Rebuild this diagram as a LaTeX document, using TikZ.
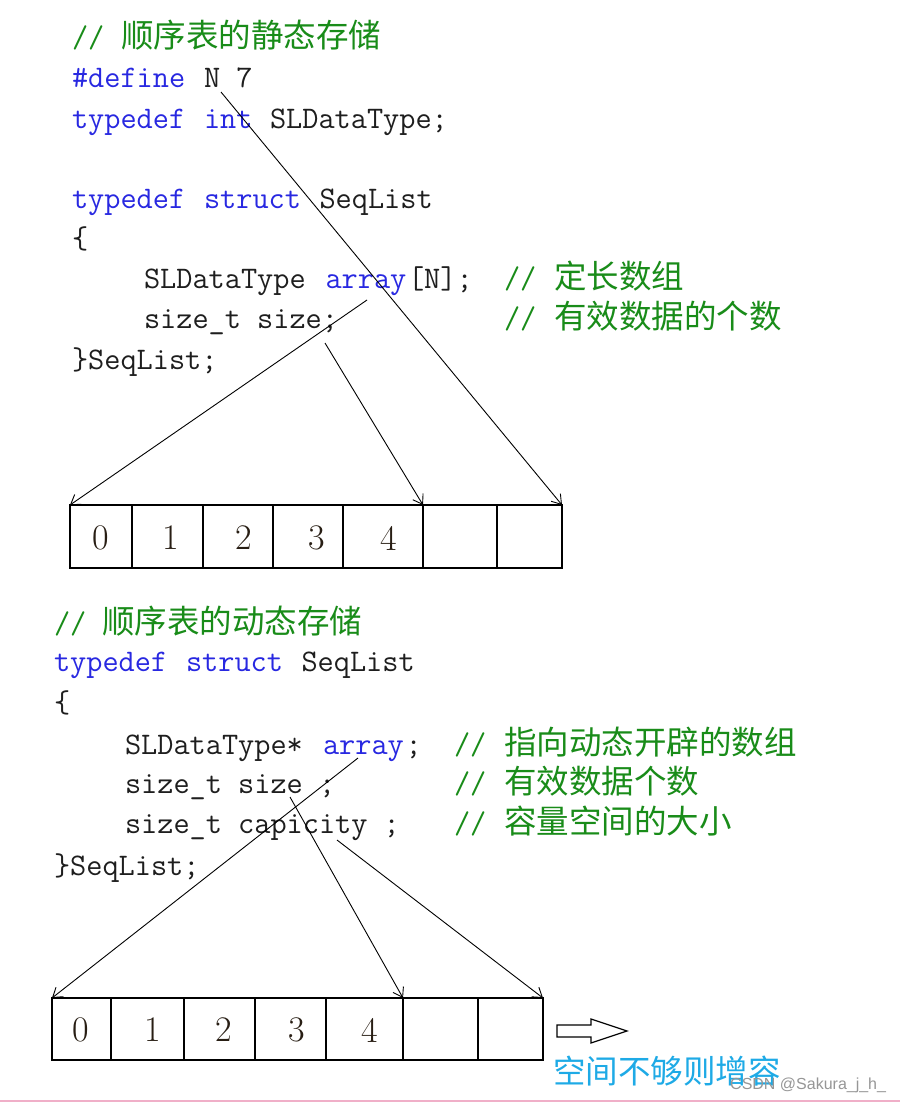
\documentclass[tikz,border=0pt]{standalone}
\usepackage{fontspec}
\newfontfamily\cjk{Noto Sans CJK SC}
\newfontfamily\wmfont{Liberation Sans}
\usetikzlibrary{arrows.meta}
\definecolor{kw}{RGB}{40,40,225}
\definecolor{cm}{RGB}{25,140,25}
\definecolor{tx}{RGB}{30,30,30}
\definecolor{dg}{RGB}{40,30,20}
\definecolor{cy}{RGB}{30,170,230}
\definecolor{pk}{RGB}{240,175,200}
\definecolor{wm}{RGB}{150,150,150}
\tikzset{
  code/.style={anchor=base west, inner sep=0pt, outer sep=0pt,
    font=\ttfamily\fontsize{31.4}{32}\selectfont, text=tx},
  kwd/.style={code, text=kw},
  cmt/.style={code, text=cm},
  zh/.style={anchor=base west, inner sep=0pt, outer sep=0pt,
    font=\cjk\fontsize{32.5}{33}\selectfont, text=cm},
  cellbox/.style={draw=black, line width=1.3pt, anchor=north west,
    inner sep=0pt, outer sep=0pt},
  digit/.style={inner sep=0pt, font=\fontsize{36}{36}\selectfont, text=dg},
  ptr/.style={draw=black, line width=0.9pt, -{Straight Barb[length=9pt,width=12pt]}},
}
\begin{document}
\begin{tikzpicture}[x=1pt,y=-1pt]
\fill[white] (0,0) rectangle (900,1103);
\useasboundingbox (0,0) rectangle (900,1103);

% ---------- static storage code ----------
\node[cmt] (c1a) at (72,47) {//};
\node[zh]  (c1b) at (121,47) {顺序表的静态存储};
\node[kwd] (c2a) at (72,87) {\#define};
\node[code] (c2b) at (204,87) {N 7};
\node[kwd] (c3a) at (72,128) {typedef};
\node[kwd] (c3b) at (204,128) {int};
\node[code] (c3c) at (270,128) {SLDataType;};
\node[kwd] (c5a) at (72,208) {typedef};
\node[kwd] (c5b) at (204,208) {struct};
\node[code] (c5c) at (319.5,208) {SeqList};
\node[code] (c6) at (72,248) {\{};
\node[code] (c7a) at (144,288) {SLDataType};
\node[kwd] (c7b) at (325.5,288) {array};
\node[code] (c7c) at (408,288) {[N];};
\node[cmt] (c7d) at (504,288) {//};
\node[zh]  (c7e) at (554,288) {定长数组};
\node[code] (c8a) at (144,328) {size\_t size;};
\node[cmt] (c8b) at (504,328) {//};
\node[zh]  (c8c) at (554,328) {有效数据的个数};
\node[code] (c9) at (72,369) {\}SeqList;};

% ---------- static array ----------
\node[cellbox, minimum width=62pt, minimum height=63pt] (t0) at (70,505) {};
\node[cellbox, minimum width=71pt, minimum height=63pt] (t1) at (132,505) {};
\node[cellbox, minimum width=70pt, minimum height=63pt] (t2) at (203,505) {};
\node[cellbox, minimum width=70pt, minimum height=63pt] (t3) at (273,505) {};
\node[cellbox, minimum width=80pt, minimum height=63pt] (t4) at (343,505) {};
\node[cellbox, minimum width=74pt, minimum height=63pt] (t5) at (423,505) {};
\node[cellbox, minimum width=65pt, minimum height=63pt] (t6) at (497,505) {};
\node[digit] (d0) at (101,538) {0};
\node[digit] (d1) at (171,538) {1};
\node[digit] (d2) at (244,538) {2};
\node[digit] (d3) at (317,538) {3};
\node[digit] (d4) at (389,538) {4};

\coordinate (p1) at (367,300);
\coordinate (p2) at (325,343);
\coordinate (p3) at (221,92);
\draw[ptr] (p1) -- (t0.north west);
\draw[ptr] (p2) -- (t5.north west);
\draw[ptr] (p3) -- (t6.north east);

% ---------- dynamic storage code ----------
\node[cmt] (e1a) at (54,633) {//};
\node[zh]  (e1b) at (102,633) {顺序表的动态存储};
\node[kwd] (e2a) at (54,671) {typedef};
\node[kwd] (e2b) at (186,671) {struct};
\node[code] (e2c) at (301.5,671) {SeqList};
\node[code] (e3) at (54,712) {\{};
\node[code] (e4a) at (125,754) {SLDataType*};
\node[kwd] (e4b) at (323,754) {array};
\node[code] (e4c) at (405.5,754) {;};
\node[cmt] (e4d) at (454,754) {//};
\node[zh]  (e4e) at (504,754) {指向动态开辟的数组};
\node[code] (e5a) at (125,793) {size\_t size ;};
\node[cmt] (e5b) at (454,793) {//};
\node[zh]  (e5c) at (504,793) {有效数据个数};
\node[code] (e6a) at (125,833) {size\_t capicity ;};
\node[cmt] (e6b) at (454,833) {//};
\node[zh]  (e6c) at (504,833) {容量空间的大小};
\node[code] (e7) at (54,875) {\}SeqList;};

% ---------- dynamic array ----------
\node[cellbox, minimum width=59pt, minimum height=62pt] (u0) at (52,998) {};
\node[cellbox, minimum width=73pt, minimum height=62pt] (u1) at (111,998) {};
\node[cellbox, minimum width=71pt, minimum height=62pt] (u2) at (184,998) {};
\node[cellbox, minimum width=71pt, minimum height=62pt] (u3) at (255,998) {};
\node[cellbox, minimum width=77pt, minimum height=62pt] (u4) at (326,998) {};
\node[cellbox, minimum width=75pt, minimum height=62pt] (u5) at (403,998) {};
\node[cellbox, minimum width=65pt, minimum height=62pt] (u6) at (478,998) {};
\node[digit] (f0) at (81,1030) {0};
\node[digit] (f1) at (153,1030) {1};
\node[digit] (f2) at (224,1030) {2};
\node[digit] (f3) at (297,1030) {3};
\node[digit] (f4) at (370,1030) {4};

\coordinate (q1) at (358,758);
\coordinate (q2) at (290,797);
\coordinate (q3) at (337,840);
\draw[ptr] (q1) -- (u0.north west);
\draw[ptr] (q2) -- (u5.north west);
\draw[ptr] (q3) -- (u6.north east);

% hollow arrow and caption
\draw[line width=1.2pt, line join=miter] (557,1025) -- (591,1025) -- (591,1019) -- (627,1031)
   -- (591,1043) -- (591,1037) -- (557,1037) -- cycle;
\node[anchor=base west, inner sep=0pt, font=\cjk\fontsize{32.5}{33}\selectfont, text=cy]
   (grow) at (553,1083) {空间不够则增容};
\node[anchor=base west, inner sep=0pt, font=\wmfont\fontsize{16}{16}\selectfont, text=wm]
   (mark) at (730,1089) {CSDN @Sakura\_j\_h\_};
\draw[pk, line width=2pt] (0,1101) -- (900,1101);
\end{tikzpicture}
\end{document}
